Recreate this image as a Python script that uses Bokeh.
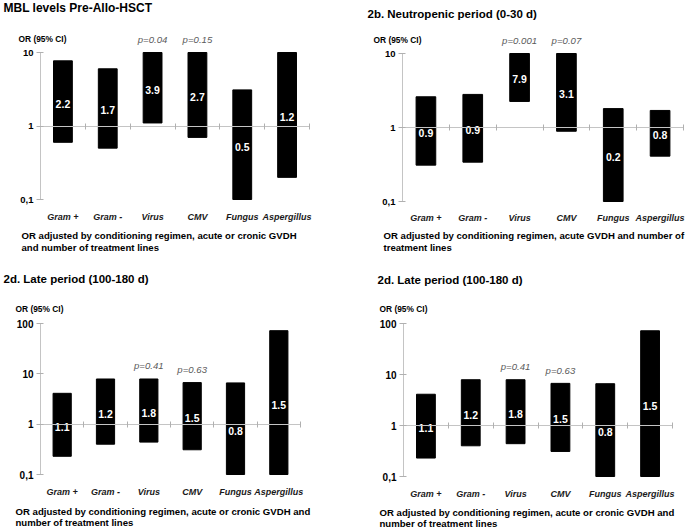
import math
from bokeh.plotting import figure
from bokeh.layouts import column, row
from bokeh.models import (Range1d, LinearAxis, LogAxis, FixedTicker, CustomJSTickFormatter,
                          Label, ColumnDataSource)
from bokeh.embed import file_html
from bokeh.resources import INLINE
from bokeh.core.properties import value

FONT = "Liberation Sans"

categories = ["Gram +", "Gram -", "Virus", "CMV", "Fungus", "Aspergillus"]

# Panel 1: MBL levels Pre-Allo-HSCT
pre_or = [2.2, 1.7, 3.9, 2.7, 0.5, 1.2]
pre_low = [0.6, 0.5, 1.1, 0.7, 0.1, 0.2]
pre_high = [7.7, 6.0, 10, 10, 3.1, 10]
pre_p = ["", "", "p=0.04", "p=0.15", "", ""]

# Panel 2: Neutropenic period
neu_or = [0.9, 0.9, 7.9, 3.1, 0.2, 0.8]
neu_low = [0.31, 0.34, 2.25, 0.89, 0.1, 0.41]
neu_high = [2.6, 2.8, 10, 10, 1.8, 1.7]
neu_p = ["", "", "p=0.001", "p=0.07", "", ""]

# Panels 3 and 4: Late period
late_or = [1.1, 1.2, 1.8, 1.5, 0.8, 1.5]
late_low = [0.23, 0.40, 0.44, 0.31, 0.1, 0.1]
late_high = [4.1, 7.9, 7.9, 6.7, 6.6, 72]
late_p = ["", "", "p=0.41", "p=0.63", "", ""]

ticks_top = [0.1, 1, 10]
ticks_bottom = [0.1, 1, 10, 100]

titles = ["MBL levels Pre-Allo-HSCT", "2b. Neutropenic period (0-30 d)",
          "2d. Late period (100-180 d)", "2d. Late period (100-180 d)"]
foot_a = ["OR adjusted by conditioning regimen, acute or cronic  GVDH",
          "OR adjusted by conditioning regimen, acute GVDH  and number of",
          "OR adjusted by conditioning regimen, acute or cronic  GVDH  and",
          "OR adjusted by conditioning regimen, acute or cronic  GVDH  and"]
foot_b = ["and number of treatment lines", "treatment lines",
          "number of treatment lines", "number of treatment lines"]
ylabel = "OR (95% CI)"


def make_panel(idx, orv, low, high, pvals, yticks, g):
    w, h = g["w"], g["h"]
    n = len(categories)
    cw = (w - g["left"] - g["right"]) / n
    lo_log = math.log10(yticks[0])
    hi_log = math.log10(yticks[-1])
    dpx = g["axis_px"] / (hi_log - lo_log)
    x_rng = Range1d(-g["left"] / cw, n + g["right"] / cw)
    y_rng = Range1d(10 ** (lo_log - g["bottom"] / dpx), 10 ** (hi_log + g["top"] / dpx))
    p = figure(width=w, height=h, output_backend="svg", toolbar_location=None,
               y_axis_type="log", x_range=x_rng, y_range=y_rng,
               x_axis_location=None, y_axis_location=None,
               min_border_left=0, min_border_right=0,
               min_border_top=0, min_border_bottom=0)
    p.title = None
    p.outline_line_color = None
    p.grid.visible = False
    p.background_fill_color = "white"
    p.border_fill_color = "white"

    xs = [i + 0.5 for i in range(n)]
    mids = [math.sqrt(a * b) for a, b in zip(low, high)]
    src = ColumnDataSource(dict(x=xs, low=low, high=high, mid=mids,
                                lab=["%.1f" % v for v in orv], p=pvals))

    # y axis at the left edge of the categories
    ya = LogAxis(fixed_location=0, ticker=FixedTicker(ticks=yticks),
                 formatter=CustomJSTickFormatter(code="return String(tick).replace('.', ',')"),
                 bounds=(yticks[0], yticks[-1]))
    ya.axis_line_color = "#c4c4c4"
    ya.major_tick_line_color = "#b0b0b0"
    ya.major_tick_in = 3
    ya.major_tick_out = 4
    ya.minor_tick_line_color = None
    ya.major_label_standoff = 3
    ya.major_label_text_font = FONT
    ya.major_label_text_font_style = "bold"
    ya.major_label_text_font_size = g["yfs"]
    ya.major_label_text_color = "black"
    p.add_layout(ya, "left")

    # reference line at OR = 1 with category separators
    ref = LinearAxis(fixed_location=1, bounds=(0, n),
                     ticker=FixedTicker(ticks=list(range(n + 1))))
    ref.axis_line_color = "#c4c4c4"
    ref.major_tick_line_color = "#b0b0b0"
    ref.major_tick_in = 3
    ref.major_tick_out = 3
    ref.minor_tick_line_color = None
    ref.major_label_text_font_size = "0px"
    ref.major_label_text_alpha = 0
    p.add_layout(ref, "below")

    # category labels below the lowest tick
    xa = LinearAxis(fixed_location=yticks[0], ticker=FixedTicker(ticks=xs),
                    formatter=CustomJSTickFormatter(args=dict(labels=categories),
                                                    code="return labels[Math.floor(tick)]"))
    xa.axis_line_color = None
    xa.major_tick_line_color = None
    xa.minor_tick_line_color = None
    xa.major_label_standoff = g["xstand"]
    xa.major_label_text_font = FONT
    xa.major_label_text_font_style = "bold italic"
    xa.major_label_text_font_size = "9px"
    xa.major_label_text_color = "#1a1a1a"
    p.add_layout(xa, "below")

    p.vbar(x="x", bottom="low", top="high", width=0.42, source=src,
           fill_color="black", line_color="black")
    p.text(x="x", y="mid", text="lab", source=src, text_color="white",
           text_font=value(FONT), text_font_style="bold",
           text_font_size=g["barfs"], text_align="center",
           text_baseline="middle", y_offset=2)
    p.text(x="x", y="high", text="p", source=src, text_color="#5a5a5a",
           text_font=value(FONT), text_font_style="italic",
           text_font_size="9.6px", text_align="center",
           text_baseline="middle", y_offset=-13)

    top_v = yticks[-1]
    bot_v = yticks[0]

    def lab(text, y, xo, yo, fs, style="bold"):
        p.add_layout(Label(x=0, y=y, x_offset=xo, y_offset=yo, text=text,
                           text_font=FONT, text_font_style=style,
                           text_font_size=fs, text_align="left",
                           text_baseline="middle", text_color="black"))
    lab(titles[idx], top_v, g["t"][0], g["t"][1], g["tfs"])
    lab(ylabel, top_v, g["o"][0], g["o"][1], "8.4px")
    lab(foot_a[idx], bot_v, g["f"][0], g["f"][1], "9.6px")
    lab(foot_b[idx], bot_v, g["f"][0], g["f"][2], "9.6px")
    return p


g1 = dict(w=340, h=265, left=40, right=31, top=52, bottom=66, axis_px=147,
          barfs="10.5px", yfs="9.5px", xstand=6, tfs="12px",
          t=(-37, 45), o=(-22, 14), f=(-19, -36, -48))
g2 = dict(w=345, h=265, left=62, right=2, top=53, bottom=64, axis_px=148,
          barfs="10.5px", yfs="9.5px", xstand=5, tfs="11.5px",
          t=(-35, 40), o=(-29, 14), f=(-19, -34, -46))
g3 = dict(w=340, h=265, left=40, right=40, top=58, bottom=56, axis_px=151,
          barfs="10.5px", yfs="10px", xstand=6, tfs="11.5px",
          t=(-37, 45), o=(-25, 15), f=(-25, -36.5, -47.5))
g4 = dict(w=345, h=265, left=63, right=13, top=58, bottom=54, axis_px=153,
          barfs="10.5px", yfs="10px", xstand=6, tfs="11.5px",
          t=(-26, 44), o=(-24, 14.5), f=(-24, -35.5, -46.5))

p1 = make_panel(0, pre_or, pre_low, pre_high, pre_p, ticks_top, g1)
p2 = make_panel(1, neu_or, neu_low, neu_high, neu_p, ticks_top, g2)
p3 = make_panel(2, late_or, late_low, late_high, late_p, ticks_bottom, g3)
p4 = make_panel(3, late_or, late_low, late_high, late_p, ticks_bottom, g4)

layout = column(row(p1, p2), row(p3, p4))
open("out.html", "w").write(file_html(layout, INLINE))
